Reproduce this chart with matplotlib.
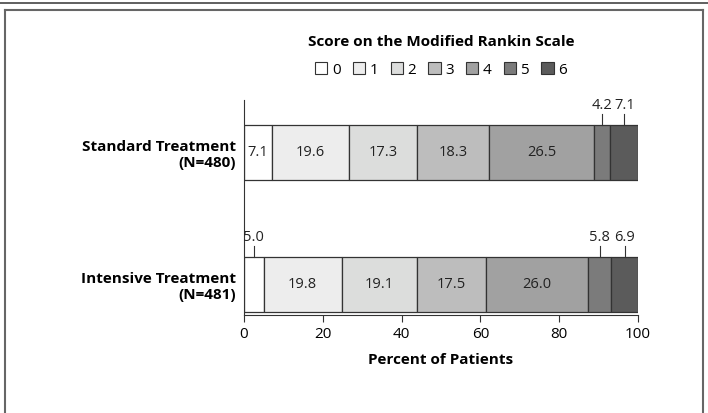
import matplotlib
matplotlib.use("Agg")
import matplotlib.pyplot as plt
from matplotlib.patches import Rectangle
from matplotlib.lines import Line2D

groups = ["Standard Treatment\n(N=480)", "Intensive Treatment\n(N=481)"]
scores = ["0", "1", "2", "3", "4", "5", "6"]
standard = [7.1, 19.6, 17.3, 18.3, 26.5, 4.2, 7.1]
intensive = [5.0, 19.8, 19.1, 17.5, 26.0, 5.8, 6.9]
colors = ["#ffffff", "#ededed", "#dcdddc", "#bdbdbd", "#a1a1a1", "#7b7b7b", "#5b5b5b"]
xticks = [0, 20, 40, 60, 80, 100]

plt.rcParams['font.family'] = ['Open Sans', 'DejaVu Sans']
fig = plt.figure(figsize=(7.08, 4.13), dpi=100)
ax = fig.add_axes([244/708, 1-315/413, 394/708, 215/413])
ax.set_xlim(0, 100)
ax.set_ylim(0, 1)
ys = [0.756, 0.142]
h = 0.256
for yc, vals, outside in [(ys[0], standard, {5, 6}), (ys[1], intensive, {0, 5, 6})]:
    left = 0
    for i, v in enumerate(vals):
        ax.barh(yc, v, left=left, height=h, color=colors[i], edgecolor="#333333", linewidth=0.9)
        cx = left + v/2
        if i in outside:
            ax.plot([cx, cx], [yc + h/2, yc + h/2 + 0.05], color="#333333", lw=0.8, clip_on=False)
            ax.text(cx, yc + h/2 + 0.055, f"{v:.1f}", ha="center", va="bottom", fontsize=10.5, color="#222222")
        else:
            ax.text(cx, yc, f"{v:.1f}", ha="center", va="center", fontsize=10.5, color="#222222")
        left += v
ax.set_yticks(ys)
ax.set_yticklabels(groups, fontsize=11, fontweight="bold", ha="right", multialignment="right")
ax.tick_params(axis="y", length=0, pad=6)
ax.set_xticks(xticks)
ax.tick_params(axis="x", labelsize=11, length=5, color="#333333")
for s in ["top", "right"]:
    ax.spines[s].set_visible(False)
for s in ["left", "bottom"]:
    ax.spines[s].set_color("#333333")
ax.set_xlabel("Percent of Patients", fontsize=11, fontweight="bold", labelpad=8)

fig.text(441/708, 1-42/413, "Score on the Modified Rankin Scale", ha="center", va="center", fontsize=11, fontweight="bold")
handles = [Rectangle((0, 0), 1, 1, facecolor=c, edgecolor="#333333", lw=0.8) for c in colors]
fig.legend(handles, scores, loc="center", bbox_to_anchor=(441/708, 1-70/413), ncol=7, frameon=False,
           fontsize=11, handlelength=0.8, handleheight=0.8, handletextpad=0.3, columnspacing=0.8)

fig.add_artist(Line2D([0, 1], [1-3/413, 1-3/413], color="#444444", lw=1.2))
fig.add_artist(Line2D([5/708, 703/708], [1-10/413, 1-10/413], color="#666666", lw=1.5))
fig.add_artist(Line2D([5/708, 5/708], [0, 1-10/413], color="#666666", lw=1.5))
fig.add_artist(Line2D([703/708, 703/708], [0, 1-10/413], color="#666666", lw=1.5))
fig.savefig("out.png", dpi=100)
